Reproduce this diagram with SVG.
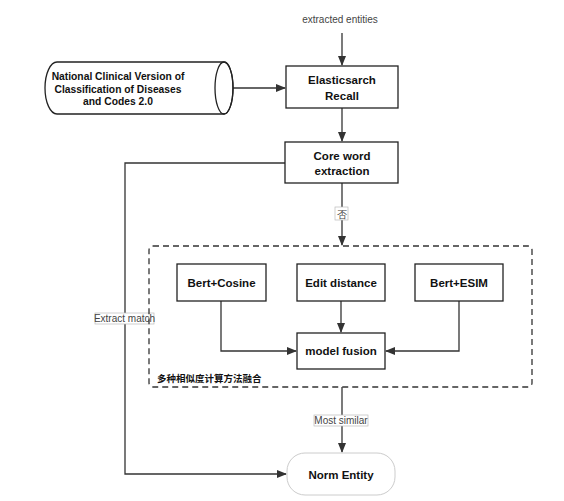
<svg xmlns="http://www.w3.org/2000/svg" width="564" height="501" viewBox="0 0 564 501">
<style>
.box{fill:#fff;stroke:#222;stroke-width:1.3}
.t{font-family:"Liberation Sans",Arial,sans-serif;font-size:11.5px;font-weight:bold;fill:#111;text-anchor:middle}
.s{font-family:"Liberation Sans",Arial,sans-serif;font-size:10px;fill:#444;text-anchor:middle}
.c{fill:none;stroke:#333;stroke-width:1.3}
.lbl{fill:#fff;stroke:#bbb;stroke-width:0.7}
</style>
<defs>
<marker id="ah" markerWidth="10" markerHeight="10" refX="9" refY="5" orient="auto" markerUnits="userSpaceOnUse">
<path d="M0,1 L10,5 L0,9 Z" fill="#333"/>
</marker>
</defs>
<rect width="564" height="501" fill="#fff"/>
<g id="connectors">
<path class="c" d="M342,33 V65" marker-end="url(#ah)"/>
<path class="c" d="M233,88 H285" marker-end="url(#ah)"/>
<path class="c" d="M342,108 V141" marker-end="url(#ah)"/>
<path class="c" d="M342,183 V245" marker-end="url(#ah)"/>
<path class="c" d="M285,163 H125 V474 H286" marker-end="url(#ah)"/>
<path class="c" d="M221,301 V351 H296" marker-end="url(#ah)"/>
<path class="c" d="M341,301 V332" marker-end="url(#ah)"/>
<path class="c" d="M459,301 V351 H386" marker-end="url(#ah)"/>
<path class="c" d="M342,387 V452" marker-end="url(#ah)"/>
<rect class="lbl" x="335" y="207" width="13" height="13"/>
<text class="s" x="341.5" y="217.5">否</text>
<rect class="lbl" x="95" y="313" width="59" height="11"/>
<text class="s" x="124.5" y="322">Extract match</text>
<rect class="lbl" x="314" y="415" width="54" height="11"/>
<text class="s" x="341" y="424">Most similar</text>
</g>
<g id="input">
<text class="s" x="340" y="23">extracted entities</text>
</g>
<g id="cylinder">
<path d="M57,62 H224 A9,26 0 0 1 224,114 H57 A12,26 0 0 1 57,62 Z" fill="#fff" stroke="#222" stroke-width="1.3"/>
<ellipse cx="224" cy="88" rx="9" ry="26" fill="none" stroke="#222" stroke-width="1.3"/>
<text class="t" style="font-size:10.3px" x="118" y="80">National Clinical Version of</text>
<text class="t" style="font-size:10.3px" x="118" y="93">Classification of Diseases</text>
<text class="t" style="font-size:10.3px" x="118" y="105">and Codes 2.0</text>
</g>
<g id="recall">
<rect class="box" x="286" y="66" width="112" height="42"/>
<text class="t" x="342" y="84">Elasticsarch</text>
<text class="t" x="342" y="100">Recall</text>
</g>
<g id="core">
<rect class="box" x="285" y="142" width="113" height="41"/>
<text class="t" x="342" y="160">Core word</text>
<text class="t" x="342" y="175">extraction</text>
</g>
<g id="group">
<rect x="149" y="246" width="383" height="141" rx="4" fill="none" stroke="#333" stroke-width="1.3" stroke-dasharray="6,4"/>
<text style="font-family:'Liberation Sans','Noto Sans CJK SC',sans-serif;font-size:9.5px;font-weight:bold;fill:#111" x="157" y="382">多种相似度计算方法融合</text>
</g>
<g id="cosine">
<rect class="box" x="177" y="264" width="89" height="37"/>
<text class="t" x="221.5" y="287">Bert+Cosine</text>
</g>
<g id="edit">
<rect class="box" x="297" y="264" width="88" height="37"/>
<text class="t" x="341" y="287">Edit distance</text>
</g>
<g id="esim">
<rect class="box" x="415" y="264" width="88" height="37"/>
<text class="t" x="459" y="287">Bert+ESIM</text>
</g>
<g id="fusion">
<rect class="box" x="297" y="333" width="88" height="36"/>
<text class="t" x="341" y="355">model fusion</text>
</g>
<g id="norm">
<rect x="287" y="453" width="108" height="42" rx="18" fill="#fff" stroke="#ccc" stroke-width="1"/>
<text class="t" x="341" y="478.5">Norm Entity</text>
</g>
</svg>
